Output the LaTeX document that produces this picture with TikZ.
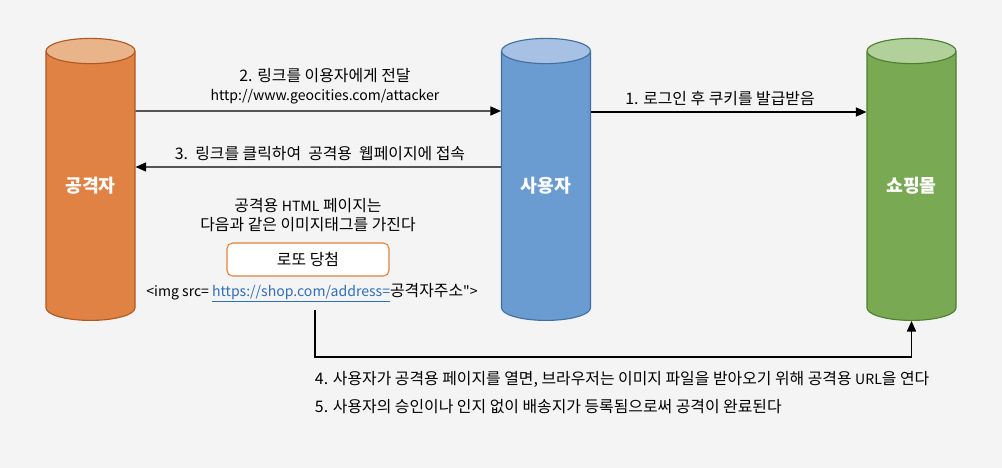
\documentclass[tikz,border=0pt]{standalone}
\usepackage{fontspec}
\setmainfont{Noto Sans CJK KR}
\newfontfamily\rawfont{Noto Sans CJK KR}
\usepackage{xcolor}
\usetikzlibrary{shapes.geometric, arrows.meta, positioning}

\definecolor{bggray}{HTML}{F4F4F4}
\definecolor{atkbody}{HTML}{DF8244}
\definecolor{atktop}{HTML}{EAB48A}
\definecolor{atkline}{HTML}{AE5A21}
\definecolor{usrbody}{HTML}{6A9BD1}
\definecolor{usrtop}{HTML}{A6C1E3}
\definecolor{usrline}{HTML}{41719C}
\definecolor{shopbody}{HTML}{79A953}
\definecolor{shoptop}{HTML}{B1D09A}
\definecolor{shopline}{HTML}{507E32}
\definecolor{linkblue}{HTML}{2F6EBA}

% smaller size for latin runs
\newcommand{\latsz}{\fontsize{10}{13}\selectfont}

\begin{document}
\begin{tikzpicture}[
cylnode/.style={cylinder, shape border rotate=90, aspect=0.5, minimum width=2.225cm, minimum height=7.05cm, inner sep=0pt, cylinder uses custom fill, thick, text=white, font=\fontsize{13}{15}\selectfont\bfseries},
lotbox/.style={rounded corners=4pt, draw=atkbody, fill=white, thick, minimum width=4.05cm, minimum height=0.825cm},
txt/.style={font=\fontsize{11.3}{13}\selectfont, align=center},
arr/.style={-{Triangle[length=7.5pt, width=6.5pt]}, thick},
]
% background
\fill[bggray] (0,0) rectangle (25.05,-11.7);

%Nodes
\node[cylnode, draw=atkline, cylinder body fill=atkbody, cylinder end fill=atktop] (attacker) at (2.2625,-4.65) {\raisebox{-0.15cm}{공격자}};
\node[cylnode, draw=usrline, cylinder body fill=usrbody, cylinder end fill=usrtop] (user) at (13.65,-4.65) {\raisebox{-0.15cm}{사용자}};
\node[cylnode, draw=shopline, cylinder body fill=shopbody, cylinder end fill=shoptop] (shop) at (22.7875,-4.65) {\raisebox{-0.15cm}{쇼핑몰}};

\node[txt] (send_label) at (8.125,-2.15) {2. 링크를 이용자에게 전달\\[0.5pt]{\latsz http://www.geocities.com/attacker}};
\node[txt] (click_label) at (8.0,-3.85) {3.\ \ 링크를 클릭하여\ \ 공격용\ \ 웹페이지에 접속};
\node[txt] (login_label) at (18.0,-2.475) {1. 로그인 후 쿠키를 발급받음};
\node[txt] (html_label) at (7.7,-5.375) {공격용 {\latsz HTML} 페이지는\\다음과 같은 이미지태그를 가진다};
\node[lotbox, txt] (lotto) at (7.7,-6.4875) {로또 당첨};
\node[txt] (imgtag) at (7.8,-7.325) {{\latsz <img src= \textcolor{linkblue}{\underline{https://shop.com/address=}}}공격자주소{\latsz\rawfont">}};
\node[txt, anchor=west] (step_four) at (7.75,-9.475) {4. 사용자가 공격용 페이지를 열면, 브라우저는 이미지 파일을 받아오기 위해 공격용 {\latsz URL}을 연다};
\node[txt, anchor=west] (step_five) at (7.75,-10.175) {5. 사용자의 승인이나 인지 없이 배송지가 등록됨으로써 공격이 완료된다};
\coordinate (src) at (7.875,-7.75);

%Lines
\draw[arr] ([yshift=1.875cm]attacker.east) -- ([yshift=1.875cm]user.west);
\draw[arr] ([yshift=0.475cm]user.west) -- ([yshift=0.475cm]attacker.east);
\draw[arr] ([yshift=1.85cm]user.east) -- ([yshift=1.85cm]shop.west);
\draw[arr] (src) -- ++(0,-1.175) -| (shop.south);

\end{tikzpicture}
\end{document}
